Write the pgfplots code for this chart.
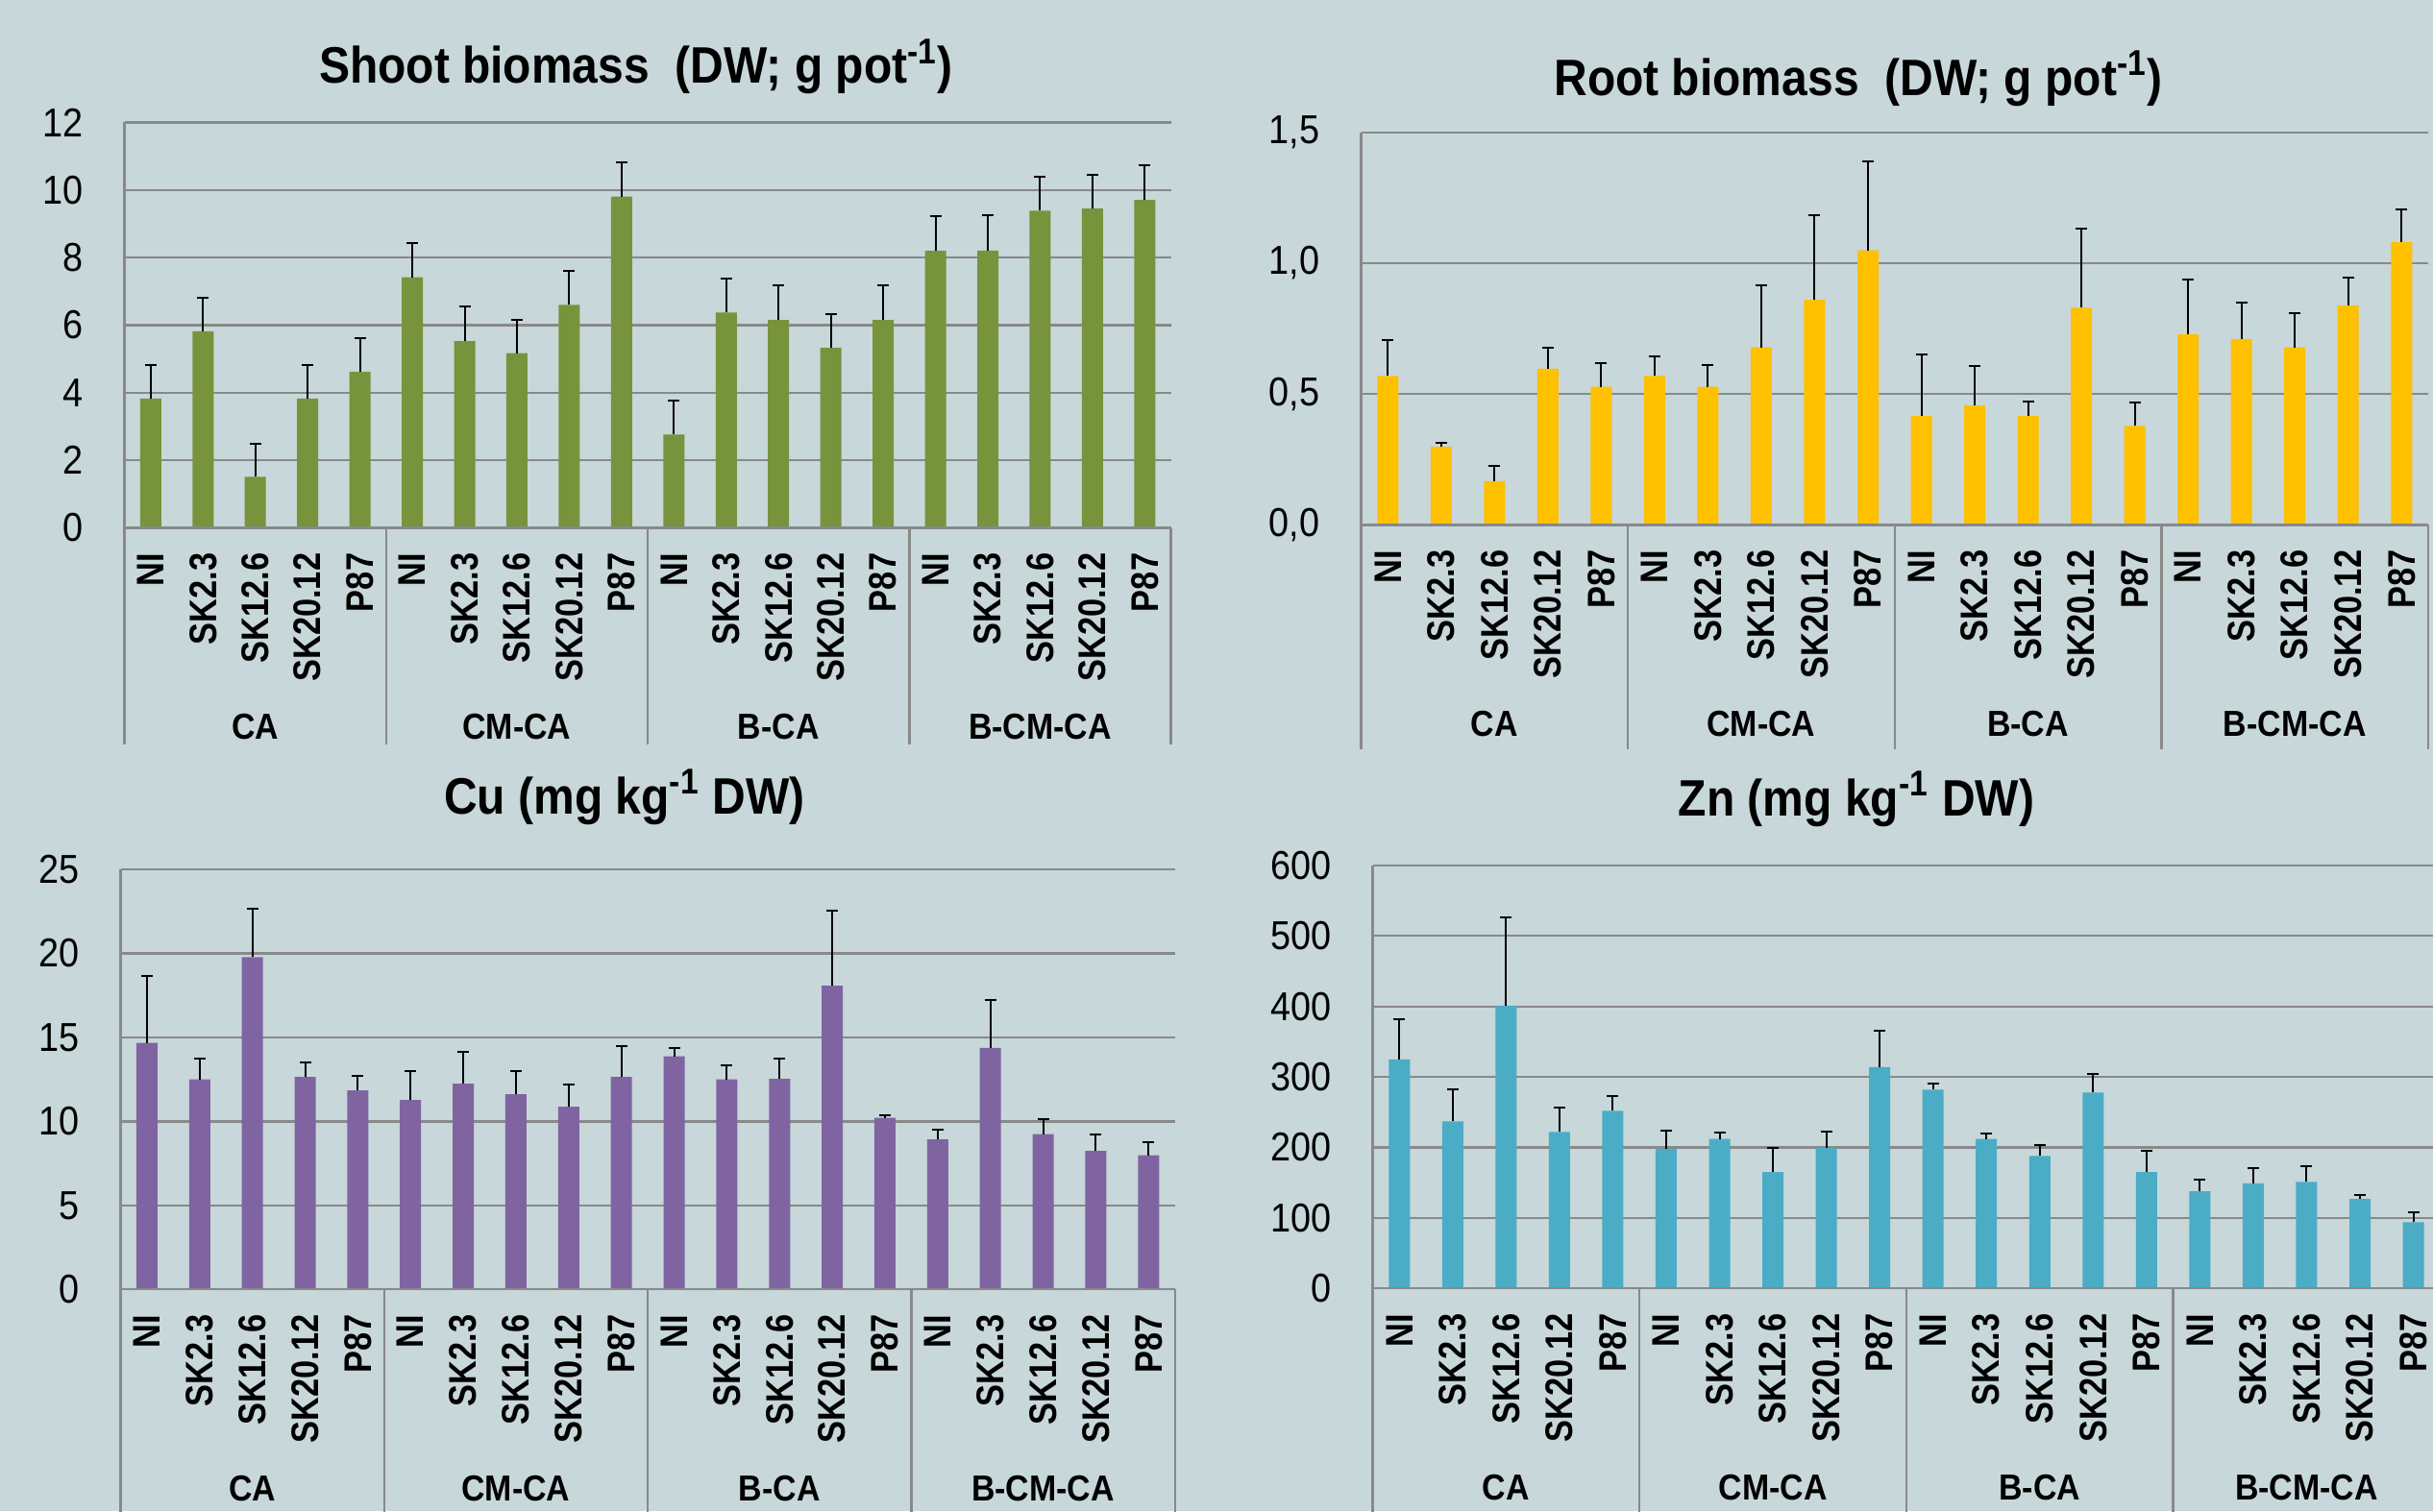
\documentclass[border=0pt]{standalone}
\usepackage{fontspec}
\setmainfont{Liberation Sans}[FakeStretch=0.9]
\newfontfamily\labfont{Liberation Sans}[FakeStretch=0.86]
\usepackage{pgfplots}
\pgfplotsset{compat=1.18}
\usepackage{pgfplotstable}
\definecolor{bg}{RGB}{199,215,218}
\definecolor{gridc}{RGB}{137,137,137}
\definecolor{cgreen}{RGB}{119,147,60}
\definecolor{cyellow}{RGB}{255,192,0}
\definecolor{cpurple}{RGB}{128,100,162}
\definecolor{cblue}{RGB}{75,172,198}

\pgfplotstableread{
x y e
0 3.83 0.99
1 5.82 1.00
2 1.51 0.99
3 3.83 1.00
4 4.62 1.00
5 7.42 1.00
6 5.53 1.02
7 5.17 0.98
8 6.60 1.01
9 9.81 1.02
10 2.76 1.00
11 6.37 1.02
12 6.15 1.02
13 5.33 1.01
14 6.15 1.02
15 8.20 1.02
16 8.21 1.04
17 9.39 1.00
18 9.45 0.99
19 9.71 1.02
}\shootdata

\pgfplotstableread{
x y e
0 0.569 0.139
1 0.298 0.017
2 0.167 0.058
3 0.597 0.081
4 0.528 0.090
5 0.569 0.075
6 0.528 0.084
7 0.678 0.236
8 0.860 0.325
9 1.049 0.339
10 0.416 0.236
11 0.457 0.150
12 0.416 0.056
13 0.830 0.301
14 0.378 0.090
15 0.728 0.210
16 0.710 0.140
17 0.678 0.131
18 0.839 0.107
19 1.080 0.126
}\rootdata

\pgfplotstableread{
x y e
0 14.67 3.99
1 12.50 1.23
2 19.78 2.88
3 12.64 0.86
4 11.84 0.89
5 11.27 1.72
6 12.24 1.89
7 11.62 1.37
8 10.87 1.34
9 12.64 1.83
10 13.87 0.51
11 12.50 0.83
12 12.53 1.20
13 18.07 4.45
14 10.22 0.17
15 8.93 0.57
16 14.38 2.86
17 9.25 0.91
18 8.25 1.00
19 7.99 0.80
}\cudata

\pgfplotstableread{
x y e
0 325 57
1 237 46
2 401 125
3 222 34
4 252 21
5 198 26
6 212 9
7 165 34
8 200 22
9 314 52
10 282 9
11 212 8
12 188 15
13 278 26
14 165 30
15 138 17
16 149 22
17 151 23
18 127 5
19 94 14
}\zndata

\pgfplotsset{
  panel/.style={
    scale only axis,
    anchor=south west,
    xmin=-0.5, xmax=19.5,
    ymin=0,
    axis line style={draw=none},
    ymajorgrids,
    grid style={gridc, line width=0.7pt},
    major tick length=0pt,
    xtick={0,...,19},
    xticklabels={NI,SK2.3,SK12.6,SK20.12,P87,NI,SK2.3,SK12.6,SK20.12,P87,NI,SK2.3,SK12.6,SK20.12,P87,NI,SK2.3,SK12.6,SK20.12,P87},
    xticklabel style={rotate=90, anchor=east, inner sep=0pt, font=\labfont\bfseries\fontsize{12}{12}\selectfont},
    xticklabel shift=7.7pt,
    yticklabel style={anchor=east, inner sep=0pt, font=\fontsize{12.6}{13}\selectfont},
    yticklabel shift=12.8pt,
    /pgf/number format/assume math mode=true,
    clip=false,
    ybar, bar width=6.6pt,
  },
  ebar/.style={draw=none, fill=#1,
    error bars/.cd, y dir=plus, y explicit,
    error bar style={black, line width=0.6pt},
    error mark options={black, line width=0.6pt, mark size=1.8pt, rotate=90}},
}
\tikzset{
  glab/.style={anchor=base, yshift=-66.1pt, inner sep=0pt, font=\bfseries\fontsize{11.3}{12}\selectfont},
  ttl/.style={anchor=base, inner sep=0pt, font=\bfseries\fontsize{16}{18}\selectfont},
  gl/.style={gridc, line width=0.7pt},
}

\begin{document}
\begin{tikzpicture}
\path[fill=bg, use as bounding box] (0,0) rectangle (759.6pt,471.9pt);

% Shoot biomass
\begin{axis}[panel, at={(38.88pt,307.05pt)}, width=326.7pt, height=126.6pt,
  ymax=12, ytick={0,2,...,12}]
\addplot[ebar=cgreen] table[x=x, y=y, y error=e] {\shootdata};
\draw[gl] (axis cs:-0.5,0) -- (axis cs:19.5,0);
\draw[gl] (axis cs:-0.5,12) -- (axis cs:-0.5,0) -- ++(0pt,-67.7pt);
\draw[gl] (axis cs:4.5,0) -- ++(0pt,-67.7pt);
\draw[gl] (axis cs:9.5,0) -- ++(0pt,-67.7pt);
\draw[gl] (axis cs:14.5,0) -- ++(0pt,-67.7pt);
\draw[gl] (axis cs:19.5,0) -- ++(0pt,-67.7pt);
\node[glab] at (axis cs:2,0) {CA};
\node[glab] at (axis cs:7,0) {CM-CA};
\node[glab] at (axis cs:12,0) {B-CA};
\node[glab] at (axis cs:17,0) {B-CM-CA};
\end{axis}

% Root biomass
\begin{axis}[panel, at={(424.95pt,307.98pt)}, width=333.15pt, height=122.58pt,
  ymax=1.5, ytick={0,0.5,1,1.5},
  yticklabel style={/pgf/number format/.cd, fixed, fixed zerofill, precision=1, use comma}]
\addplot[ebar=cyellow] table[x=x, y=y, y error=e] {\rootdata};
\draw[gl] (axis cs:-0.5,0) -- (axis cs:19.5,0);
\draw[gl] (axis cs:-0.5,1.5) -- (axis cs:-0.5,0) -- ++(0pt,-70pt);
\draw[gl] (axis cs:4.5,0) -- ++(0pt,-70pt);
\draw[gl] (axis cs:9.5,0) -- ++(0pt,-70pt);
\draw[gl] (axis cs:14.5,0) -- ++(0pt,-70pt);
\draw[gl] (axis cs:19.5,0) -- ++(0pt,-70pt);
\node[glab] at (axis cs:2,0) {CA};
\node[glab] at (axis cs:7,0) {CM-CA};
\node[glab] at (axis cs:12,0) {B-CA};
\node[glab] at (axis cs:17,0) {B-CM-CA};
\end{axis}

% Cu
\begin{axis}[panel, at={(37.65pt,69.21pt)}, width=329.16pt, height=131.19pt,
  ymax=25, ytick={0,5,...,25}]
\addplot[ebar=cpurple] table[x=x, y=y, y error=e] {\cudata};
\draw[gl] (axis cs:-0.5,0) -- (axis cs:19.5,0);
\draw[gl] (axis cs:-0.5,25) -- (axis cs:-0.5,0) -- ++(0pt,-80pt);
\draw[gl] (axis cs:4.5,0) -- ++(0pt,-80pt);
\draw[gl] (axis cs:9.5,0) -- ++(0pt,-80pt);
\draw[gl] (axis cs:14.5,0) -- ++(0pt,-80pt);
\draw[gl] (axis cs:19.5,0) -- ++(0pt,-80pt);
\node[glab] at (axis cs:2,0) {CA};
\node[glab] at (axis cs:7,0) {CM-CA};
\node[glab] at (axis cs:12,0) {B-CA};
\node[glab] at (axis cs:17,0) {B-CM-CA};
\end{axis}

% Zn
\begin{axis}[panel, at={(428.55pt,69.51pt)}, width=333.24pt, height=132.12pt,
  ymax=600, ytick={0,100,...,600}]
\addplot[ebar=cblue] table[x=x, y=y, y error=e] {\zndata};
\draw[gl] (axis cs:-0.5,0) -- (axis cs:19.5,0);
\draw[gl] (axis cs:-0.5,600) -- (axis cs:-0.5,0) -- ++(0pt,-80pt);
\draw[gl] (axis cs:4.5,0) -- ++(0pt,-80pt);
\draw[gl] (axis cs:9.5,0) -- ++(0pt,-80pt);
\draw[gl] (axis cs:14.5,0) -- ++(0pt,-80pt);
\draw[gl] (axis cs:19.5,0) -- ++(0pt,-80pt);
\node[glab] at (axis cs:2,0) {CA};
\node[glab] at (axis cs:7,0) {CM-CA};
\node[glab] at (axis cs:12,0) {B-CA};
\node[glab] at (axis cs:17,0) {B-CM-CA};
\end{axis}

\node[ttl] at (198.6pt,445.8pt) {Shoot biomass\ \ (DW; g pot\textsuperscript{-1})};
\node[ttl] at (580.2pt,442.05pt) {Root biomass\ \ (DW; g pot\textsuperscript{-1})};
\node[ttl] at (195pt,217.7pt) {Cu (mg kg\textsuperscript{-1} DW)};
\node[ttl] at (579.6pt,217.2pt) {Zn (mg kg\textsuperscript{-1} DW)};
\end{tikzpicture}
\end{document}
